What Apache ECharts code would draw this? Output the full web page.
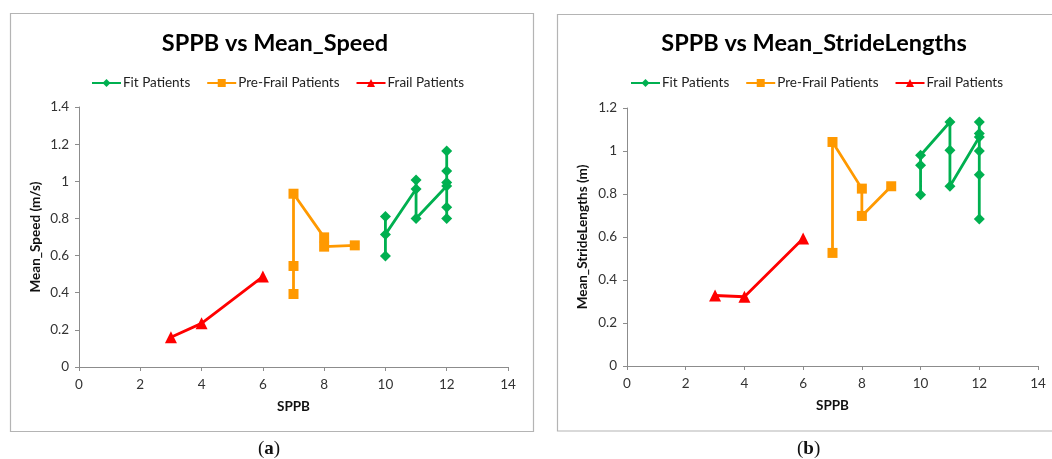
<!DOCTYPE html>
<html>
<head>
<meta charset="utf-8">
<script src="https://cdn.jsdelivr.net/npm/echarts@6/dist/echarts.min.js"></script>
<style>
html,body{margin:0;padding:0;background:#fff;}
#c{width:1052px;height:459px;}
</style>
</head>
<body>
<div id="c"></div>
<script>
// ---- Data ----
const seriesNames = ['Fit Patients', 'Pre-Frail Patients', 'Frail Patients'];
const titles = ['SPPB vs Mean_Speed', 'SPPB vs Mean_StrideLengths'];
const yNames = ['Mean_Speed (m/s)', 'Mean_StrideLengths (m)'];
const xName = 'SPPB';
const captions = ['a', 'b'];

// Chart (a): SPPB vs Mean_Speed
const speedFit = [[10,0.81],[10,0.598],[10,0.714],[11,0.958],[11,1.007],[11,0.80],[12,0.975],[12,1.163],[12,1.055],[12,0.994],[12,0.86],[12,0.80]];
const speedPreFrail = [[7,0.393],[7,0.544],[7,0.933],[8,0.698],[8,0.648],[9,0.655]];
const speedFrail = [[3,0.16],[4,0.235],[6,0.487]];

// Chart (b): SPPB vs Mean_StrideLengths
const strideFit = [[10,0.797],[10,0.934],[10,0.98],[11,1.135],[11,1.003],[11,0.836],[12,1.065],[12,1.135],[12,1.081],[12,1.0],[12,0.89],[12,0.684]];
const stridePreFrail = [[7,0.526],[7,1.042],[8,0.825],[8,0.698],[9,0.836]];
const strideFrail = [[3,0.328],[4,0.322],[6,0.593]];

const yMax = [1.4, 1.2];
const xMax = 14;

// ---- Styles ----
const colors = ['#00B050', '#FF9900', '#FF0000'];
const symbols = ['diamond', 'rect', 'triangle'];
const symbolSizes = [11, 10, 12];
const font = 'Lato, "Open Sans", sans-serif';
const axisColor = '#8c8c8c';

const chart = echarts.init(document.getElementById('c'));

const grids = [
  {left: 79, right: 1052 - 508, top: 107, bottom: 459 - 367},
  {left: 627, right: 1052 - 1038, top: 108, bottom: 459 - 366}
];

function mkSeries(data, i, axisIdx) {
  return {
    name: seriesNames[i], type: 'line', data: data,
    xAxisIndex: axisIdx, yAxisIndex: axisIdx,
    symbol: symbols[i], symbolSize: symbolSizes[i],
    showAllSymbol: true,
    itemStyle: {color: colors[i]},
    lineStyle: {color: colors[i], width: 2.8},
    animation: false, z: 3 - i
  };
}

const allData = [[speedFit, speedPreFrail, speedFrail], [strideFit, stridePreFrail, strideFrail]];
const series = [];
allData.forEach((set, g) => set.forEach((d, i) => series.push(mkSeries(d, i, g))));

const centers = [270, 809];
const legendLeft = [86, 625];
const yNameGap = [36, 37];

chart.setOption({
  animation: false,
  textStyle: {fontFamily: font},
  title: titles.map((t, g) => ({
    text: t, left: centers[g], textAlign: 'center', top: 26,
    textStyle: {fontFamily: font, fontSize: 23.5, fontWeight: 'bold', color: '#000'}
  })),
  legend: [0, 1].map(g => ({
    data: seriesNames, left: legendLeft[g], top: 71,
    itemWidth: 29, itemHeight: 10, itemGap: 16,
    textStyle: {fontFamily: font, fontSize: 13.5, color: '#222', padding: [0, 0, 0, -3]},
    selectedMode: false
  })),
  grid: grids,
  xAxis: [0, 1].map(g => ({
    type: 'value', gridIndex: g, min: 0, max: xMax, interval: 2,
    name: xName, nameLocation: 'middle', nameGap: 33,
    nameTextStyle: {fontFamily: font, fontSize: 13.5, fontWeight: 'bold', color: '#111'},
    axisLine: {show: true, onZero: false, lineStyle: {color: axisColor, width: 1}},
    axisTick: {show: true, length: 4, lineStyle: {color: axisColor}},
    axisLabel: {fontFamily: font, fontSize: 13.5, color: '#333', margin: 11},
    splitLine: {show: false}
  })),
  yAxis: [0, 1].map(g => ({
    type: 'value', gridIndex: g, min: 0, max: yMax[g], interval: 0.2,
    name: yNames[g], nameLocation: 'middle', nameGap: yNameGap[g], nameRotate: 90,
    nameTextStyle: {fontFamily: font, fontSize: 13.5, fontWeight: 'bold', color: '#111'},
    axisLine: {show: true, lineStyle: {color: axisColor, width: 1}},
    axisTick: {show: true, length: 4, lineStyle: {color: axisColor}},
    axisLabel: {fontFamily: font, fontSize: 13.5, color: '#333', margin: 10,
      formatter: v => String(Math.round(v * 10) / 10)},
    splitLine: {show: false}
  })),
  graphic: [
    {type: 'rect', shape: {x: 10.5, y: 13.5, width: 523, height: 418}, style: {fill: 'none', stroke: '#b4b4b4', lineWidth: 1.2}, z: -1},
    {type: 'rect', shape: {x: 557.5, y: 14.5, width: 500, height: 416.5}, style: {fill: 'none', stroke: '#b4b4b4', lineWidth: 1.2}, z: -1},
    ...captions.map((c, g) => ({
      type: 'text', left: centers[g] - 12, top: 440,
      style: {
        text: '{n|(}{b|' + c + '}{n|)}',
        rich: {
          n: {fontFamily: '"Liberation Serif", serif', fontSize: 19, fill: '#111'},
          b: {fontFamily: '"Liberation Serif", serif', fontSize: 19, fontWeight: 'bold', fill: '#111'}
        }
      }
    }))
  ],
  series: series
});
</script>
</body>
</html>
